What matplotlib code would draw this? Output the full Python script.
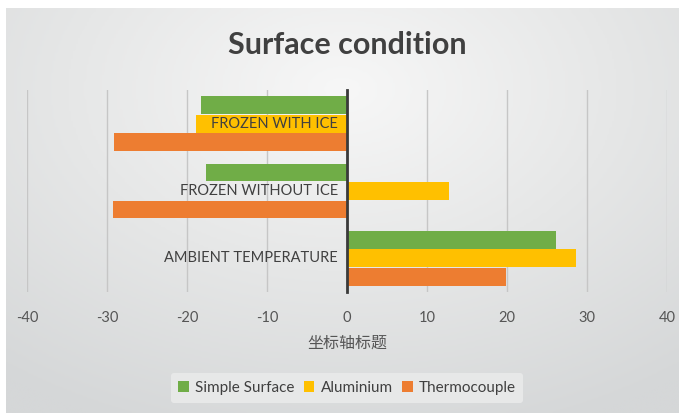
import numpy as np
import matplotlib.pyplot as plt
from matplotlib.colors import LinearSegmentedColormap

# 数据
categories = ['AMBIENT TEMPERATURE', 'FROZEN WITHOUT ICE', 'FROZEN WITH ICE']
simple_surface = [26.1, -17.6, -18.2]
aluminium = [28.6, 12.8, -18.9]
thermocouple = [19.9, -29.3, -29.1]

series = [('Simple Surface', simple_surface, '#70ad47'),
          ('Aluminium', aluminium, '#ffc000'),
          ('Thermocouple', thermocouple, '#ed7d31')]

plt.rcParams['font.family'] = ['Lato', 'DejaVu Sans']
plt.rcParams['axes.unicode_minus'] = False

fig = plt.figure(figsize=(6.79, 4.13), dpi=100)

# 背景渐变
bg = fig.add_axes([6 / 679, 0, 673 / 679, 405 / 413], zorder=-10)
yy, xx = np.mgrid[0:1:200j, 0:1:300j]
r = np.sqrt(((xx - 0.5) * 1.1) ** 2 + ((yy - 0.8) * 1.0) ** 2)
cmap = LinearSegmentedColormap.from_list('bg', ['#f7f7f7', '#e6e7e7', '#d5d7d8'])
bg.imshow(r, cmap=cmap, aspect='auto', origin='lower', extent=[0, 1, 0, 1], vmin=0, vmax=0.9)
bg.axis('off')

ax = fig.add_axes([27 / 679, 121 / 413, 640 / 679, 202 / 413])
ax.patch.set_alpha(0)

y = np.arange(len(categories))
h = 0.265
offsets = [h + 0.01, 0, -h - 0.01]
for (name, vals, color), off in zip(series, offsets):
    ax.barh(y + off, vals, height=h, color=color, label=name, zorder=2)

ax.set_xlim(-40, 40)
ax.set_ylim(-0.5, 2.5)
ax.set_xticks(np.arange(-40, 41, 10))
ax.set_yticks([])
ax.grid(axis='x', color='#c6c6c6', linewidth=1, zorder=0)
ax.set_axisbelow(True)

# 类别标签画在零线左侧，压在柱子上
for yi, name in zip(y, categories):
    ax.text(-1.1, yi, name, ha='right', va='center', fontsize=10.5,
            color='#404040', zorder=5)

for s in ['top', 'right', 'bottom']:
    ax.spines[s].set_visible(False)
ax.spines['left'].set_position(('data', 0))
ax.spines['left'].set_color('#3a3a3a')
ax.spines['left'].set_linewidth(2)
ax.spines['left'].set_zorder(3)

ax.tick_params(axis='x', length=0, pad=14, labelsize=10.5, labelcolor='#555555')

ax.set_xlabel('坐标轴标题', family=['Noto Sans CJK SC', 'DejaVu Sans'],
              fontsize=11.5, color='#555555', labelpad=7)

fig.text(347 / 679, 1 - 45 / 413, 'Surface condition', ha='center', va='center',
         fontsize=22, fontweight='bold', color='#404040')

leg = fig.legend(loc='center', bbox_to_anchor=(347 / 679, 1 - 388 / 413), ncol=3,
                 frameon=True, fontsize=11, handlelength=0.7, handleheight=0.7,
                 handletextpad=0.4, columnspacing=0.6, borderpad=0.5)
leg.get_frame().set_facecolor('#e9eaea')
leg.get_frame().set_edgecolor('none')
leg.get_frame().set_alpha(0.9)
for t in leg.get_texts():
    t.set_color('#404040')

fig.savefig('out.png', dpi=100)
